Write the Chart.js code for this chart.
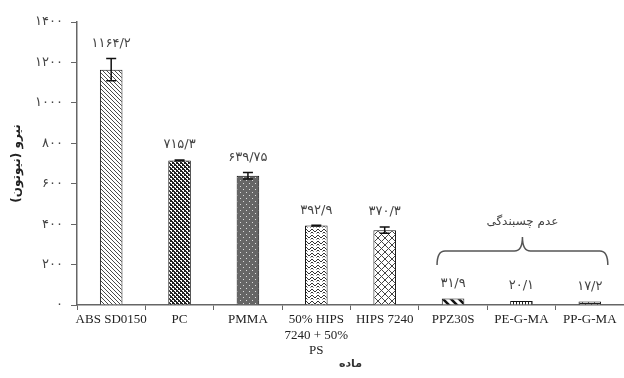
<!DOCTYPE html>
<html>
<head>
<meta charset="utf-8">
<script src="https://cdn.jsdelivr.net/npm/chart.js@4"></script>
<style>
    html, body { margin: 0; background: #fff; }
    #wrap { width: 624px; height: 378px; }
</style>
</head>
<body>
<div id="wrap"><canvas id="forceChart"></canvas></div>
<script>
// ---------- Data ----------
const materials = ['ABS SD0150', 'PC', 'PMMA', ['50% HIPS', '7240 + 50%', 'PS'], 'HIPS 7240', 'PPZ30S', 'PE-G-MA', 'PP-G-MA'];
const forces = [1164.2, 715.3, 639.75, 392.9, 370.3, 31.9, 20.1, 17.2];
const errors = [55, 2, 16, 2, 15, 0, 0, 0];
const yTicks = [0, 200, 400, 600, 800, 1000, 1200, 1400];
const patternKinds = ['diag', 'confetti', 'dots', 'zigzag', 'diamond', 'wideDiag', 'vertical', 'brick'];
const groupLabel = 'عدم چسبندگی';
const groupRange = [5, 7];
const yTitle = 'نیرو (نیوتون)';
const xTitle = 'ماده';

const faDigits = '۰۱۲۳۴۵۶۷۸۹';
function toFa(v) {
    return String(v).replace(/\d/g, d => faDigits[d]).replace('.', '/');
}

// ---------- Fill patterns ----------
function makePattern(kind) {
    const c = document.createElement('canvas');
    const g = c.getContext('2d');
    let s = 6;
    c.width = c.height = s;
    if (kind === 'diag') {
        s = 4; c.width = c.height = s;
        g.fillStyle = '#fff'; g.fillRect(0, 0, s, s);
        g.fillStyle = '#4a4a4a';
        for (let i = 0; i < s; i++) g.fillRect(i, i, 1, 1);
    } else if (kind === 'confetti') {
        s = 4; c.width = c.height = s;
        g.fillStyle = '#222'; g.fillRect(0, 0, s, s);
        g.fillStyle = '#fff';
        g.fillRect(0, 0, 2, 1); g.fillRect(2, 2, 2, 1);
        g.fillRect(1, 1, 1, 1); g.fillRect(3, 3, 1, 1);
    } else if (kind === 'dots') {
        s = 6; c.width = c.height = s;
        g.fillStyle = '#666'; g.fillRect(0, 0, s, s);
        g.fillStyle = '#ddd';
        g.fillRect(0, 0, 1, 1); g.fillRect(3, 3, 1, 1);
    } else if (kind === 'zigzag') {
        s = 6; c.width = c.height = s;
        g.fillStyle = '#fff'; g.fillRect(0, 0, s, s);
        g.strokeStyle = '#333';
        g.beginPath();
        g.moveTo(0, 1); g.lineTo(3, 4); g.lineTo(6, 1);
        g.moveTo(0, 4); g.lineTo(1.5, 5.5);
        g.moveTo(4.5, 5.5); g.lineTo(6, 4);
        g.stroke();
    } else if (kind === 'diamond') {
        s = 7; c.width = c.height = s;
        g.fillStyle = '#fff'; g.fillRect(0, 0, s, s);
        g.strokeStyle = '#444';
        g.beginPath();
        g.moveTo(0, 0); g.lineTo(s, s);
        g.moveTo(s, 0); g.lineTo(0, s);
        g.stroke();
    } else if (kind === 'wideDiag') {
        s = 8; c.width = c.height = s;
        g.fillStyle = '#fff'; g.fillRect(0, 0, s, s);
        g.strokeStyle = '#111';
        g.lineWidth = 2.5;
        g.beginPath();
        g.moveTo(0, 0); g.lineTo(s, s);
        g.moveTo(-4, 4); g.lineTo(4, 12);
        g.moveTo(4, -4); g.lineTo(12, 4);
        g.stroke();
    } else if (kind === 'vertical') {
        s = 3; c.width = c.height = s;
        g.fillStyle = '#fff'; g.fillRect(0, 0, s, s);
        g.fillStyle = '#222'; g.fillRect(0, 0, 1, s);
    } else if (kind === 'brick') {
        s = 6; c.width = c.height = s;
        g.fillStyle = '#fff'; g.fillRect(0, 0, s, s);
        g.fillStyle = '#222';
        g.fillRect(0, 0, s, 1); g.fillRect(0, 3, s, 1);
        g.fillRect(0, 0, 1, 3); g.fillRect(3, 3, 1, 3);
    }
    return g.createPattern(c, 'repeat');
}

// ---------- Plugins ----------
const errorBars = {
    id: 'errorBars',
    afterDatasetsDraw(chart) {
        const { ctx, scales: { x, y } } = chart;
        ctx.save();
        ctx.strokeStyle = '#111';
        ctx.lineWidth = 1.5;
        forces.forEach((v, i) => {
            if (!errors[i]) return;
            const px = x.getPixelForValue(i);
            const top = y.getPixelForValue(v + errors[i]);
            const bot = y.getPixelForValue(v - errors[i]);
            ctx.beginPath();
            ctx.moveTo(px, top); ctx.lineTo(px, bot);
            ctx.moveTo(px - 5, top); ctx.lineTo(px + 5, top);
            ctx.moveTo(px - 5, bot); ctx.lineTo(px + 5, bot);
            ctx.stroke();
        });
        ctx.restore();
    },
};

const valueLabels = {
    id: 'valueLabels',
    afterDatasetsDraw(chart) {
        const { ctx, scales: { x, y } } = chart;
        ctx.save();
        ctx.fillStyle = '#444';
        ctx.font = '13px "DejaVu Sans", sans-serif';
        ctx.textAlign = 'center';
        ctx.textBaseline = 'middle';
        forces.forEach((v, i) => {
            const px = x.getPixelForValue(i);
            const py = y.getPixelForValue(v + errors[i]) - 15;
            ctx.fillText(toFa(v), px, py);
        });
        ctx.restore();
    },
};

const groupBrace = {
    id: 'groupBrace',
    afterDatasetsDraw(chart) {
        const { ctx, chartArea, scales: { x } } = chart;
        const L = x.getPixelForValue(groupRange[0]) - 16;
        const R = x.getPixelForValue(groupRange[1]) + 18;
        const C = (L + R) / 2;
        const b = chartArea.bottom;
        const yLine = b - 54, yEnd = b - 40, yTip = b - 68;
        ctx.save();
        ctx.strokeStyle = '#555';
        ctx.lineWidth = 1.5;
        ctx.beginPath();
        ctx.moveTo(L, yEnd);
        ctx.quadraticCurveTo(L, yLine, L + 8, yLine);
        ctx.lineTo(C - 8, yLine);
        ctx.quadraticCurveTo(C, yLine, C, yTip);
        ctx.quadraticCurveTo(C, yLine, C + 8, yLine);
        ctx.lineTo(R - 8, yLine);
        ctx.quadraticCurveTo(R, yLine, R, yEnd);
        ctx.stroke();
        ctx.fillStyle = '#444';
        ctx.font = '12px "DejaVu Sans", sans-serif';
        ctx.textAlign = 'center';
        ctx.textBaseline = 'middle';
        ctx.fillText(groupLabel, C, b - 83);
        ctx.restore();
    },
};

// ---------- Chart ----------
new Chart(document.getElementById('forceChart'), {
    type: 'bar',
    data: {
        labels: materials,
        datasets: [{
            data: forces,
            backgroundColor: patternKinds.map(makePattern),
            borderColor: '#111',
            borderWidth: 1,
            barPercentage: 0.33,
            categoryPercentage: 1,
        }],
    },
    options: {
        responsive: true,
        maintainAspectRatio: false,
        animation: false,
        layout: { padding: { top: 22, right: 0, bottom: 0, left: 0 } },
        plugins: {
            legend: { display: false },
            tooltip: { enabled: false },
        },
        scales: {
            x: {
                afterFit(scale) { scale.height = 73; },
                grid: { drawOnChartArea: false, tickLength: 5, color: '#666' },
                border: { color: '#666', width: 1.5 },
                ticks: {
                    color: '#222',
                    padding: 2,
                    maxRotation: 0,
                    autoSkip: false,
                    font: { size: 13, family: '"Liberation Serif", serif', lineHeight: 1.2 },
                },
                title: {
                    display: true,
                    text: xTitle,
                    color: '#333',
                    padding: { top: 0, bottom: 7 },
                    font: { size: 11, weight: 'bold', family: '"DejaVu Sans", sans-serif' },
                },
            },
            y: {
                min: 0,
                max: 1400,
                afterFit(scale) { scale.width = 77; },
                afterBuildTicks(scale) { scale.ticks = yTicks.map(v => ({ value: v })); },
                grid: { drawOnChartArea: false, tickLength: 6, color: '#666' },
                border: { color: '#666', width: 1.5 },
                ticks: {
                    color: '#444',
                    padding: 8,
                    callback: v => toFa(v),
                    font: { size: 13, family: '"DejaVu Sans", sans-serif' },
                },
                title: {
                    display: true,
                    text: yTitle,
                    color: '#222',
                    padding: { top: 10, bottom: 4 },
                    font: { size: 12, weight: 'bold', family: '"DejaVu Sans", sans-serif' },
                },
            },
        },
    },
    plugins: [errorBars, valueLabels, groupBrace],
});
</script>
</body>
</html>
